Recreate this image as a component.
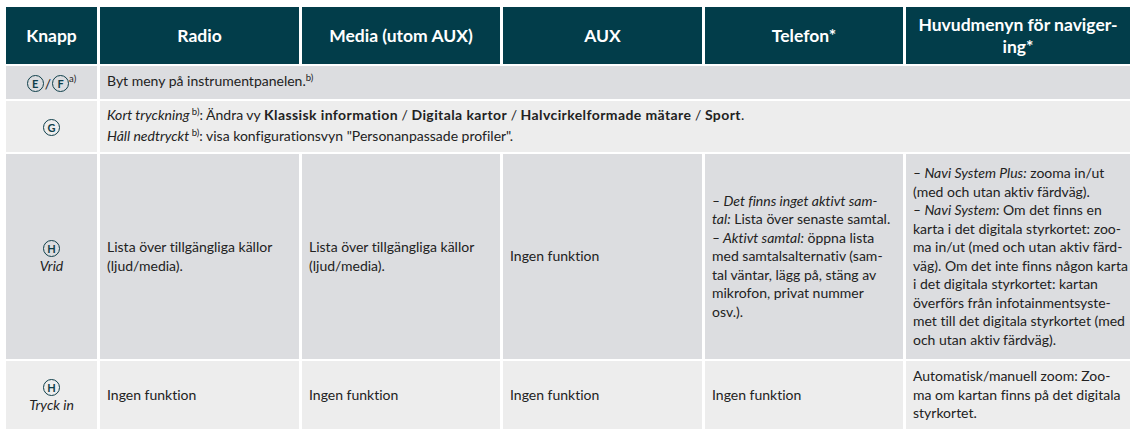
import React from 'react';

// segment: [text, flags] where flags may hold i (italic), b (bold), s (superscript)
type Seg = [string, string?];
type Line = Seg[];
type Cell = { lines: Line[]; span?: number };

const HEADERS: string[][] = [
  ['Knapp'],
  ['Radio'],
  ['Media (utom AUX)'],
  ['AUX'],
  ['Telefon*'],
  ['Huvudmenyn för naviger-', 'ing*'],
];

const KEYS: { letters: string[]; sup?: string; label?: string }[] = [
  { letters: ['E', 'F'], sup: 'a)' },
  { letters: ['G'] },
  { letters: ['H'], label: 'Vrid' },
  { letters: ['H'], label: 'Tryck in' },
];

const ROW_EF: Cell[] = [{ span: 5, lines: [[['Byt meny på instrumentpanelen.'], ['b)', 's']]] }];

const ROW_G: Cell[] = [
  {
    span: 5,
    lines: [
      [
        ['Kort tryckning', 'i'], [' b)', 's'], [': Ändra vy '], ['Klassisk information', 'b'], [' / '],
        ['Digitala kartor', 'b'], [' / '], ['Halvcirkelformade mätare', 'b'], [' / '], ['Sport', 'b'], ['.'],
      ],
      [['Håll nedtryckt', 'i'], [' b)', 's'], [': visa konfigurationsvyn "Personanpassade profiler".']],
    ],
  },
];

const SOURCES: Line[] = [[['Lista över tillgängliga källor']], [['(ljud/media).']]];
const NONE: Line[] = [[['Ingen funktion']]];

const PHONE_TURN: Line[] = [
  [['– Det finns inget aktivt sam-', 'i']],
  [['tal:', 'i'], [' Lista över senaste samtal.']],
  [['– Aktivt samtal:', 'i'], [' öppna lista']],
  [['med samtalsalternativ (sam-']],
  [['tal väntar, lägg på, stäng av']],
  [['mikrofon, privat nummer']],
  [['osv.).']],
];

const NAV_TURN: Line[] = [
  [['– Navi System Plus:', 'i'], [' zooma in/ut']],
  [['(med och utan aktiv färdväg).']],
  [['– Navi System:', 'i'], [' Om det finns en']],
  [['karta i det digitala styrkortet: zoo-']],
  [['ma in/ut (med och utan aktiv färd-']],
  [['väg). Om det inte finns någon karta']],
  [['i det digitala styrkortet: kartan']],
  [['överförs från infotainmentsyste-']],
  [['met till det digitala styrkortet (med']],
  [['och utan aktiv färdväg).']],
];

const NAV_PRESS: Line[] = [
  [['Automatisk/manuell zoom: Zoo-']],
  [['ma om kartan finns på det digitala']],
  [['styrkortet.']],
];

const ROW_TURN: Cell[] = [
  { lines: SOURCES }, { lines: SOURCES }, { lines: NONE }, { lines: PHONE_TURN }, { lines: NAV_TURN },
];
const ROW_PRESS: Cell[] = [
  { lines: NONE }, { lines: NONE }, { lines: NONE }, { lines: NONE }, { lines: NAV_PRESS },
];

const BODY_ROWS: Cell[][] = [ROW_EF, ROW_G, ROW_TURN, ROW_PRESS];

const COL_WIDTHS = [91, 199, 198, 199, 198, 224];
const ROW_HEIGHTS = [57, 33, 51, 205, 68];
const ROW_BG = ['#dcdde0', '#ededed', '#dcdde0', '#ededed'];
const TEAL = '#023d4a';
const FONT = 'Lato, "Open Sans", sans-serif';

function Circled({ letter }: { letter: string }) {
  const c = '#0f3f4a';
  return (
    <span
      style={{
        display: 'inline-flex',
        alignItems: 'center',
        justifyContent: 'center',
        boxSizing: 'border-box',
        width: 17,
        height: 17,
        border: `1.5px solid ${c}`,
        borderRadius: '50%',
        color: c,
        fontSize: 11,
        fontWeight: 700,
        fontStyle: 'normal',
        lineHeight: 1,
        verticalAlign: 'middle',
      }}
    >
      {letter}
    </span>
  );
}

function Rich({ lines }: { lines: Line[] }) {
  return (
    <>
      {lines.map((line, i) => (
        <div key={i} style={{ whiteSpace: 'nowrap' }}>
          {line.map(([text, flags = ''], j) => (
            <span
              key={j}
              style={{
                fontStyle: flags.includes('i') ? 'italic' : 'normal',
                fontWeight: flags.includes('b') ? 700 : 400,
                letterSpacing: flags.includes('b') ? 0.4 : undefined,
                fontSize: flags.includes('s') ? 9.5 : undefined,
                position: flags.includes('s') ? 'relative' : undefined,
                top: flags.includes('s') ? -5 : undefined,
              }}
            >
              {text}
            </span>
          ))}
        </div>
      ))}
    </>
  );
}

export default function App() {
  return (
    <div style={{ position: 'fixed', left: 0, top: 0, width: 1135, height: 431, background: '#fff', overflow: 'hidden' }}>
      <table
        style={{
          position: 'absolute',
          left: 3,
          top: 5,
          width: 1130,
          borderCollapse: 'separate',
          borderSpacing: '3px 2px',
          tableLayout: 'fixed',
          fontFamily: FONT,
          fontSize: 14,
          lineHeight: '18.5px',
          color: '#222',
          fontVariantLigatures: 'none',
          fontFeatureSettings: '"liga" 0, "clig" 0',
        }}
      >
        <colgroup>
          {COL_WIDTHS.map((w, i) => (
            <col key={i} style={{ width: w }} />
          ))}
        </colgroup>
        <thead>
          <tr>
            {HEADERS.map((h, i) => (
              <th
                key={i}
                style={{
                  height: ROW_HEIGHTS[0],
                  padding: '0 6px',
                  background: TEAL,
                  color: '#fff',
                  fontSize: 17.5,
                  lineHeight: '22px',
                  fontWeight: 700,
                  textAlign: 'center',
                  verticalAlign: 'middle',
                }}
              >
                {h.map((t, j) => (
                  <div key={j} style={{ whiteSpace: 'nowrap' }}>{t}</div>
                ))}
              </th>
            ))}
          </tr>
        </thead>
        <tbody>
          {BODY_ROWS.map((row, r) => {
            const key = KEYS[r];
            return (
              <tr key={r}>
                <td
                  style={{
                    height: ROW_HEIGHTS[r + 1],
                    padding: 0,
                    background: ROW_BG[r],
                    textAlign: 'center',
                    verticalAlign: 'middle',
                  }}
                >
                  <div style={{ lineHeight: '19px' }}>
                    {key.letters.map((l, i) => (
                      <React.Fragment key={i}>
                        {i > 0 && <span style={{ verticalAlign: 'middle', margin: '0 1px' }}>/</span>}
                        <Circled letter={l} />
                      </React.Fragment>
                    ))}
                    {key.sup && (
                      <span style={{ fontSize: 9.5, position: 'relative', top: -5 }}>{key.sup}</span>
                    )}
                  </div>
                  {key.label && <div style={{ fontStyle: 'italic' }}>{key.label}</div>}
                </td>
                {row.map((cell, c) => (
                  <td
                    key={c}
                    colSpan={cell.span}
                    style={{
                      padding: '0 7px',
                      background: ROW_BG[r],
                      textAlign: 'left',
                      verticalAlign: 'middle',
                    }}
                  >
                    <Rich lines={cell.lines} />
                  </td>
                ))}
              </tr>
            );
          })}
        </tbody>
      </table>
    </div>
  );
}
